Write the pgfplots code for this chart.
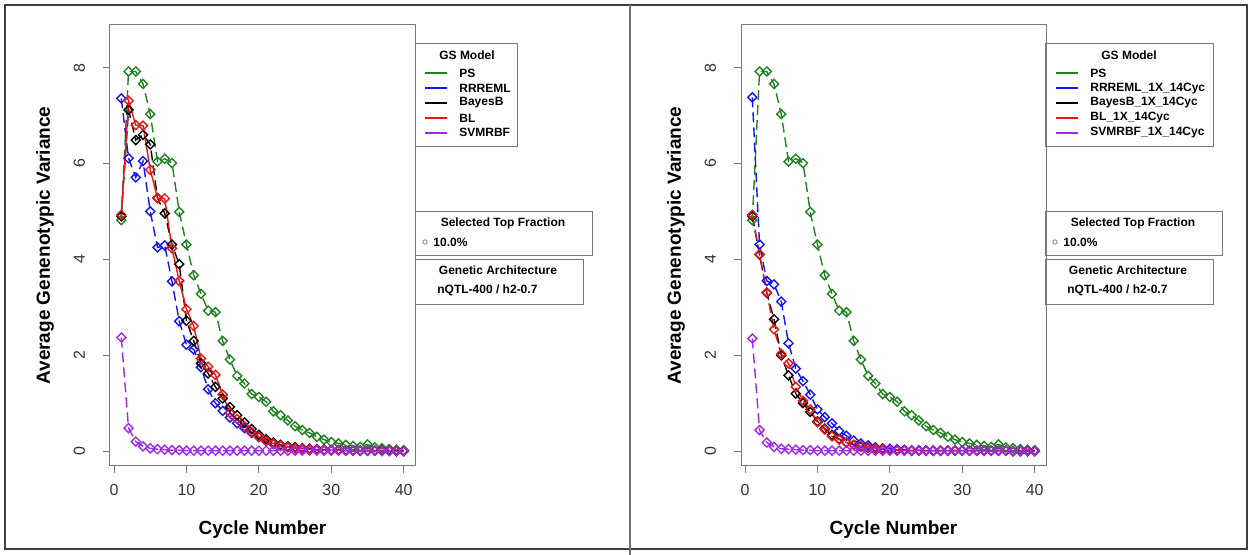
\documentclass[border=0pt]{standalone}
\usepackage{fontspec}
\setmainfont{Liberation Sans}
\usepackage{pgfplots}
\usepackage{pgfplotstable}
\pgfplotsset{compat=1.18}
\definecolor{PSgreen}{RGB}{34,130,34}
\definecolor{RRblue}{RGB}{20,20,250}
\definecolor{BLred}{RGB}{240,20,20}
\definecolor{SVMpurple}{RGB}{160,40,235}
\definecolor{frame}{RGB}{120,120,120}

% columns: cycle, PS, RRREML, BayesB, BL, SVMRBF
\pgfplotstableread{
c ps rr bb bl svm
1 4.82 7.36 4.90 4.93 2.37
2 7.92 6.11 7.12 7.31 0.48
3 7.92 5.71 6.49 6.80 0.20
4 7.66 6.05 6.60 6.79 0.10
5 7.03 5.00 6.40 5.87 0.06
6 6.04 4.25 5.28 5.28 0.04
7 6.10 4.29 4.96 5.27 0.03
8 6.01 3.54 4.31 4.23 0.02
9 4.99 2.71 3.90 3.55 0.02
10 4.31 2.22 2.72 2.96 0.01
11 3.67 2.12 2.30 2.61 0.01
12 3.28 1.75 1.83 1.93 0.01
13 2.93 1.29 1.62 1.76 0.01
14 2.90 1.00 1.34 1.59 0.01
15 2.30 0.84 1.10 1.18 0.01
16 1.91 0.70 0.92 0.80 0.01
17 1.57 0.58 0.75 0.67 0.01
18 1.41 0.48 0.60 0.52 0.01
19 1.19 0.38 0.46 0.40 0.01
20 1.13 0.29 0.34 0.30 0.01
21 1.03 0.21 0.25 0.21 0.01
22 0.83 0.15 0.18 0.16 0.01
23 0.75 0.11 0.13 0.11 0.01
24 0.64 0.08 0.10 0.08 0.01
25 0.52 0.06 0.08 0.06 0.01
26 0.44 0.05 0.06 0.05 0.01
27 0.38 0.04 0.05 0.04 0.01
28 0.30 0.03 0.04 0.03 0.01
29 0.24 0.02 0.03 0.02 0.01
30 0.19 0.02 0.02 0.02 0.01
31 0.16 0.02 0.02 0.02 0.01
32 0.13 0.01 0.02 0.01 0.01
33 0.11 0.01 0.01 0.01 0.01
34 0.09 0.01 0.01 0.01 0.01
35 0.14 0.01 0.01 0.01 0.01
36 0.08 0.01 0.01 0.01 0.01
37 0.06 0.01 0.01 0.01 0.00
38 0.04 0.01 0.01 0.01 0.00
39 0.03 0.00 0.00 0.00 0.00
40 0.02 0.00 0.00 0.00 0.00
}\leftdata

\pgfplotstableread{
c ps rr bb bl svm
1 4.82 7.38 4.90 4.93 2.35
2 7.92 4.31 4.10 4.11 0.44
3 7.92 3.55 3.30 3.31 0.18
4 7.66 3.48 2.75 2.54 0.09
5 7.03 3.12 2.00 2.03 0.05
6 6.04 2.25 1.58 1.83 0.04
7 6.10 1.72 1.20 1.34 0.03
8 6.01 1.46 1.00 1.05 0.02
9 4.99 1.18 0.82 0.87 0.02
10 4.31 0.87 0.62 0.60 0.01
11 3.67 0.71 0.47 0.45 0.01
12 3.28 0.58 0.34 0.31 0.01
13 2.93 0.42 0.25 0.24 0.01
14 2.90 0.32 0.18 0.18 0.01
15 2.30 0.22 0.13 0.13 0.01
16 1.91 0.16 0.10 0.10 0.01
17 1.57 0.12 0.07 0.08 0.01
18 1.41 0.08 0.05 0.06 0.01
19 1.19 0.06 0.04 0.04 0.01
20 1.13 0.05 0.03 0.03 0.01
21 1.03 0.04 0.02 0.02 0.01
22 0.83 0.03 0.02 0.02 0.01
23 0.75 0.02 0.01 0.01 0.01
24 0.64 0.02 0.01 0.01 0.01
25 0.52 0.01 0.01 0.01 0.01
26 0.44 0.01 0.01 0.01 0.01
27 0.38 0.01 0.01 0.01 0.01
28 0.30 0.01 0.01 0.01 0.01
29 0.24 0.01 0.01 0.01 0.01
30 0.19 0.01 0.01 0.01 0.01
31 0.16 0.01 0.01 0.01 0.01
32 0.13 0.01 0.01 0.01 0.01
33 0.11 0.01 0.01 0.01 0.01
34 0.09 0.01 0.01 0.01 0.01
35 0.14 0.01 0.01 0.01 0.01
36 0.08 0.01 0.01 0.01 0.01
37 0.06 0.00 0.00 0.00 0.00
38 0.04 0.00 0.00 0.00 0.00
39 0.03 0.00 0.00 0.00 0.00
40 0.02 0.00 0.00 0.00 0.00
}\rightdata

\pgfplotsset{
  gspanel/.style={
    scale only axis, width=152.5pt, height=220.5pt,
    xmin=-0.56, xmax=41.56, ymin=-0.31, ymax=8.89,
    xtick={0,10,...,40}, ytick={0,2,...,8},
    tick align=outside, tick pos=left, major tick length=3.5pt,
    axis line style={draw=frame, line width=0.5pt},
    tick style={draw=frame, line width=0.5pt},
    /pgf/number format/assume math mode=true,
    tick label style={font=\fontsize{8}{9}\selectfont, text=black!80},
    yticklabel style={rotate=90, anchor=south},
    yticklabel shift=5.5pt, xticklabel shift=2pt,
    xlabel={Cycle Number}, ylabel={Average Genenotypic Variance},
    every axis x label/.style={at={(axis description cs:0.5,-0.145)}, anchor=center,
      font=\bfseries\fontsize{9.5}{11}\selectfont},
    every axis y label/.style={at={(axis description cs:-0.2131,0.5)}, anchor=center, rotate=90,
      font=\bfseries\fontsize{9.5}{11}\selectfont},
    every axis plot/.append style={line width=0.7pt, mark=square, mark size=1.6pt,
      mark options={rotate=45, solid}, dash pattern=on 5pt off 2.5pt},
  },
}

\begin{document}
\begin{tikzpicture}
\useasboundingbox (0,0) rectangle (626pt,277.5pt);

\begin{axis}[gspanel, at={(55pt,44.5pt)}, anchor=south west]
\addplot[PSgreen] table[x=c,y=ps] {\leftdata};
\addplot[RRblue] table[x=c,y=rr] {\leftdata};
\addplot[black] table[x=c,y=bb] {\leftdata};
\addplot[BLred, solid] table[x=c,y=bl] {\leftdata};
\addplot[SVMpurple] table[x=c,y=svm] {\leftdata};
\end{axis}

\begin{axis}[gspanel, at={(370.5pt,44.5pt)}, anchor=south west]
\addplot[PSgreen] table[x=c,y=ps] {\rightdata};
\addplot[RRblue] table[x=c,y=rr] {\rightdata};
\addplot[black] table[x=c,y=bb] {\rightdata};
\addplot[BLred] table[x=c,y=bl] {\rightdata};
\addplot[SVMpurple] table[x=c,y=svm] {\rightdata};
\end{axis}

% legends and frame, in pixel units of the reference (y down)
\begin{scope}[shift={(0,277.5pt)}, x=0.5pt, y=-0.5pt,
  lab/.style={font=\bfseries\fontsize{6}{7}\selectfont, inner sep=0pt}]
\draw[black!75, line width=0.6pt] (5,5) rectangle (1247,549);
\draw[black!55, line width=1.2pt] (630,5) -- (630,555);
\foreach \dx/\right/\titlex/\lx/\tx/\suffix in {0/517/467/425/459/, 630/1213/1129/1056/1090/\_1X\_14Cyc} {
  \draw[frame, line width=0.5pt] (415+\dx,44) rectangle (\right,147);
  \node[lab] at (\titlex,55) {GS Model};
  \draw[PSgreen, line width=0.8pt] (\lx,73.3) -- (\lx+22,73.3);
  \node[lab, anchor=west] at (\tx,73.3) {PS};
  \draw[RRblue, line width=0.8pt] (\lx,88.2) -- (\lx+22,88.2);
  \node[lab, anchor=west] at (\tx,88.2) {RRREML\suffix};
  \draw[black, line width=0.8pt] (\lx,103) -- (\lx+22,103);
  \node[lab, anchor=west] at (\tx,103) {BayesB\suffix};
  \draw[BLred, line width=0.8pt] (\lx,117.9) -- (\lx+22,117.9);
  \node[lab, anchor=west] at (\tx,117.9) {BL\suffix};
  \draw[SVMpurple, line width=0.8pt] (\lx,132.8) -- (\lx+22,132.8);
  \node[lab, anchor=west] at (\tx,132.8) {SVMRBF\suffix};
  \draw[frame, line width=0.5pt] (415+\dx,212) rectangle (592+\dx,256);
  \node[lab] at (503+\dx,223) {Selected Top Fraction};
  \draw[gray, line width=0.4pt] (425+\dx,242) circle (2.2);
  \node[lab, anchor=west] at (433+\dx,242) {10.0\%};
  \draw[frame, line width=0.5pt] (415+\dx,260) rectangle (583+\dx,305);
  \node[lab] at (498+\dx,270) {Genetic Architecture};
  \node[lab, anchor=west] at (437+\dx,290) {nQTL-400 / h2-0.7};
}
\end{scope}
\end{tikzpicture}
\end{document}
